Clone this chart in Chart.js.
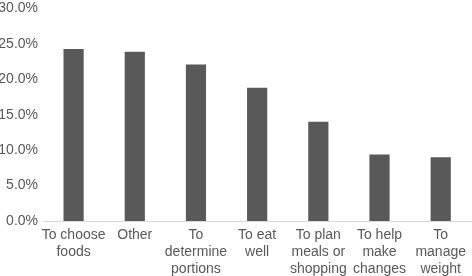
<!DOCTYPE html>
<html>
<head>
<meta charset="utf-8">
<script src="https://cdn.jsdelivr.net/npm/chart.js@4/dist/chart.umd.min.js"></script>
<style>
html,body{margin:0;padding:0;background:#fff;}
#wrap{width:472px;height:276px;position:relative;}
</style>
</head>
<body>
<div id="wrap"><canvas id="c" width="472" height="276"></canvas></div>
<script>
const categories = [
  ["To choose", "foods"],
  ["Other"],
  ["To", "determine", "portions"],
  ["To eat", "well"],
  ["To plan", "meals or", "shopping"],
  ["To help", "make", "changes"],
  ["To", "manage", "weight"]
];
const values = [0.243, 0.239, 0.221, 0.188, 0.140, 0.094, 0.090];
const yTicks = [0, 0.05, 0.10, 0.15, 0.20, 0.25, 0.30];

Chart.defaults.font.family = "'Liberation Sans', Arial, Helvetica, sans-serif";
Chart.defaults.color = "#595959";

new Chart(document.getElementById('c'), {
  type: 'bar',
  data: {
    labels: categories,
    datasets: [{
      data: values,
      backgroundColor: '#595959',
      borderWidth: 0,
      barPercentage: 0.33,
      categoryPercentage: 1
    }]
  },
  options: {
    responsive: false,
    animation: false,
    events: [],
    layout: { padding: 0 },
    plugins: { legend: { display: false }, tooltip: { enabled: false } },
    scales: {
      x: {
        grid: { display: false, drawTicks: false },
        border: { display: true, color: '#d9d9d9', width: 1 },
        afterFit: (axis) => { axis.height = 55; },
        ticks: {
          maxRotation: 0, minRotation: 0, autoSkip: false,
          font: { size: 14, lineHeight: 1.2 },
          color: '#595959',
          padding: 6
        }
      },
      y: {
        min: 0, max: 0.30,
        afterBuildTicks: (axis) => { axis.ticks = yTicks.map(v => ({ value: v })); },
        afterFit: (axis) => { axis.width = 43; },
        grid: { display: false, drawTicks: false },
        border: { display: false },
        ticks: {
          font: { size: 14, lineHeight: 0.5 },
          color: '#595959',
          padding: 5,
          callback: (v) => (v * 100).toFixed(1) + '%'
        }
      }
    }
  }
});
</script>
</body>
</html>
